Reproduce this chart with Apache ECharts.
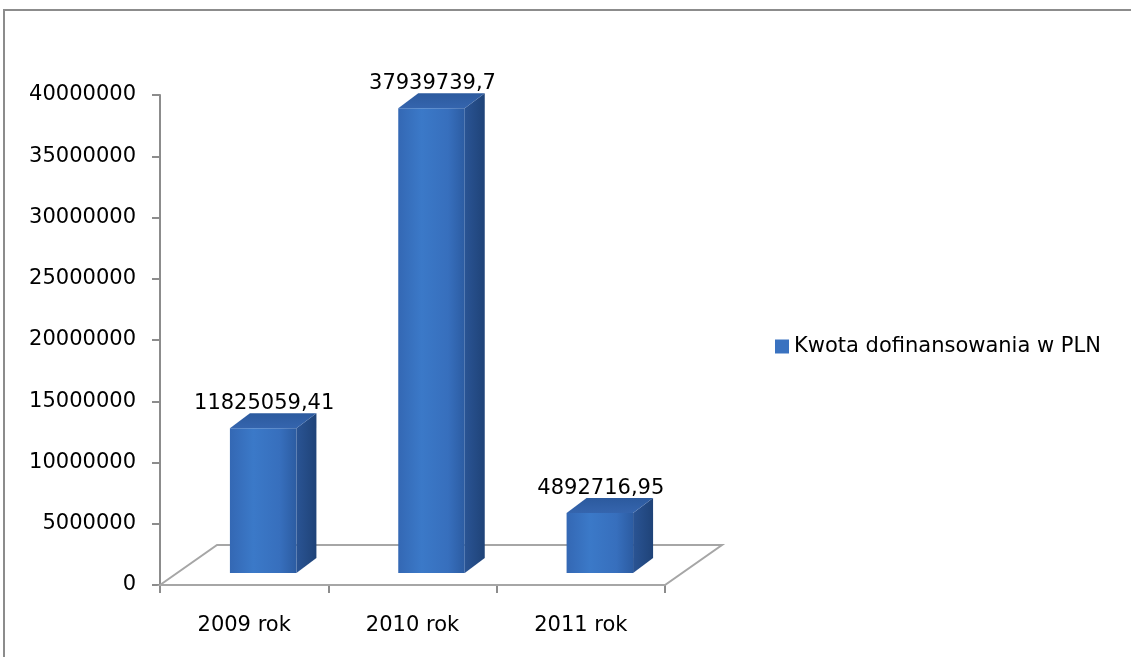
<!DOCTYPE html>
<html>
<head>
<meta charset="utf-8">
<script src="https://cdn.jsdelivr.net/npm/echarts@6/dist/echarts.min.js"></script>
<style>
html,body{margin:0;padding:0;background:#fff;}
#chart{width:1131px;height:657px;}
</style>
</head>
<body>
<div id="chart"></div>
<script>
const categories = ['2009 rok', '2010 rok', '2011 rok'];
const values = [11825059.41, 37939739.7, 4892716.95];
const valueLabels = ['11825059,41', '37939739,7', '4892716,95'];
const seriesName = 'Kwota dofinansowania w PLN';
const yMin = 0, yMax = 40000000, yInterval = 5000000;

const FONT = 'DejaVu Sans';
const chart = echarts.init(document.getElementById('chart'), null, {renderer: 'canvas'});

// 3D look parameters (pixels)
const FLOOR_DX = 57, FLOOR_DY = -40;
const BAR_OX = 19, BAR_OY = -12;
const DEPTH_DX = 20, DEPTH_DY = -15;

function floorItem(params, api) {
  const band = api.size([1, 0])[0];
  const p0 = api.coord([0, 0]);
  const p2 = api.coord([categories.length - 1, 0]);
  const xl = p0[0] - band / 2, xr = p2[0] + band / 2, y = p0[1];
  return {
    type: 'polygon',
    shape: {points: [[xl, y], [xl + FLOOR_DX, y + FLOOR_DY], [xr + FLOOR_DX, y + FLOOR_DY], [xr, y]]},
    style: {fill: '#ffffff', stroke: '#a6a6a6', lineWidth: 2},
    silent: true
  };
}

function barItem(params, api) {
  const idx = api.value(0);
  const base = api.coord([idx, 0]);
  const top = api.coord([idx, api.value(1)]);
  const band = api.size([1, 0])[0];
  const w = band * 0.395;
  const left = base[0] + BAR_OX - w / 2;
  const yb = base[1] + BAR_OY;
  const yt = top[1] + BAR_OY;
  const right = left + w;
  return {
    type: 'group',
    children: [
      {
        type: 'polygon',
        shape: {points: [[right, yt], [right + DEPTH_DX, yt + DEPTH_DY], [right + DEPTH_DX, yb + DEPTH_DY], [right, yb]]},
        style: {fill: new echarts.graphic.LinearGradient(0, 0, 1, 0, [
          {offset: 0, color: '#2a5494'}, {offset: 1, color: '#1f4378'}])}
      },
      {
        type: 'polygon',
        shape: {points: [[left, yt], [left + DEPTH_DX, yt + DEPTH_DY], [right + DEPTH_DX, yt + DEPTH_DY], [right, yt]]},
        style: {fill: new echarts.graphic.LinearGradient(0, 0, 0, 1, [
          {offset: 0, color: '#2c5a9e'}, {offset: 1, color: '#3565ae'}])}
      },
      {
        type: 'rect',
        shape: {x: left, y: yt, width: w, height: yb - yt},
        style: {fill: new echarts.graphic.LinearGradient(0, 0, 1, 0, [
          {offset: 0, color: '#3468b4'}, {offset: 0.35, color: '#3b79c8'},
          {offset: 0.75, color: '#376fbd'}, {offset: 1, color: '#2c5ca2'}])}
      },
      {
        type: 'text',
        style: {
          text: valueLabels[params.dataIndex],
          x: left + w / 2 + 1,
          y: yt + DEPTH_DY - 10,
          align: 'center',
          verticalAlign: 'middle',
          fill: '#000',
          font: '21px "' + FONT + '"'
        }
      }
    ]
  };
}

chart.setOption({
  animation: false,
  backgroundColor: '#ffffff',
  graphic: [{
    type: 'rect',
    shape: {x: 4, y: 10, width: 1300, height: 800},
    style: {fill: 'none', stroke: '#8c8c8c', lineWidth: 2},
    silent: true, z: -10
  }],
  grid: {left: 160, right: 466, top: 95, bottom: 72, containLabel: false},
  legend: {
    left: 770, top: 331,
    itemWidth: 14, itemHeight: 14, itemGap: 6,
    icon: 'rect',
    textStyle: {fontFamily: FONT, fontSize: 21, color: '#000'},
    data: [seriesName]
  },
  xAxis: {
    type: 'category',
    data: categories,
    boundaryGap: true,
    axisLine: {show: true, lineStyle: {color: '#8c8c8c', width: 2}},
    axisTick: {show: true, length: 8, alignWithLabel: false, lineStyle: {color: '#8c8c8c', width: 2}},
    axisLabel: {margin: 30, fontFamily: FONT, fontSize: 21, color: '#000'},
    splitLine: {show: false}
  },
  yAxis: {
    type: 'value',
    min: yMin, max: yMax, interval: yInterval,
    axisLine: {show: true, lineStyle: {color: '#8c8c8c', width: 2}},
    axisTick: {show: true, length: 8, lineStyle: {color: '#8c8c8c', width: 2}},
    axisLabel: {margin: 24, fontFamily: FONT, fontSize: 21, color: '#000', formatter: v => String(v)},
    splitLine: {show: false}
  },
  series: [
    {
      type: 'custom',
      name: '__floor',
      data: [[0, 0]],
      renderItem: floorItem,
      z: 1,
      silent: true
    },
    {
      type: 'custom',
      name: seriesName,
      data: values.map((v, i) => [i, v]),
      renderItem: barItem,
      itemStyle: {color: '#3a72c0'},
      encode: {x: 0, y: 1},
      z: 2
    }
  ]
});
</script>
</body>
</html>
